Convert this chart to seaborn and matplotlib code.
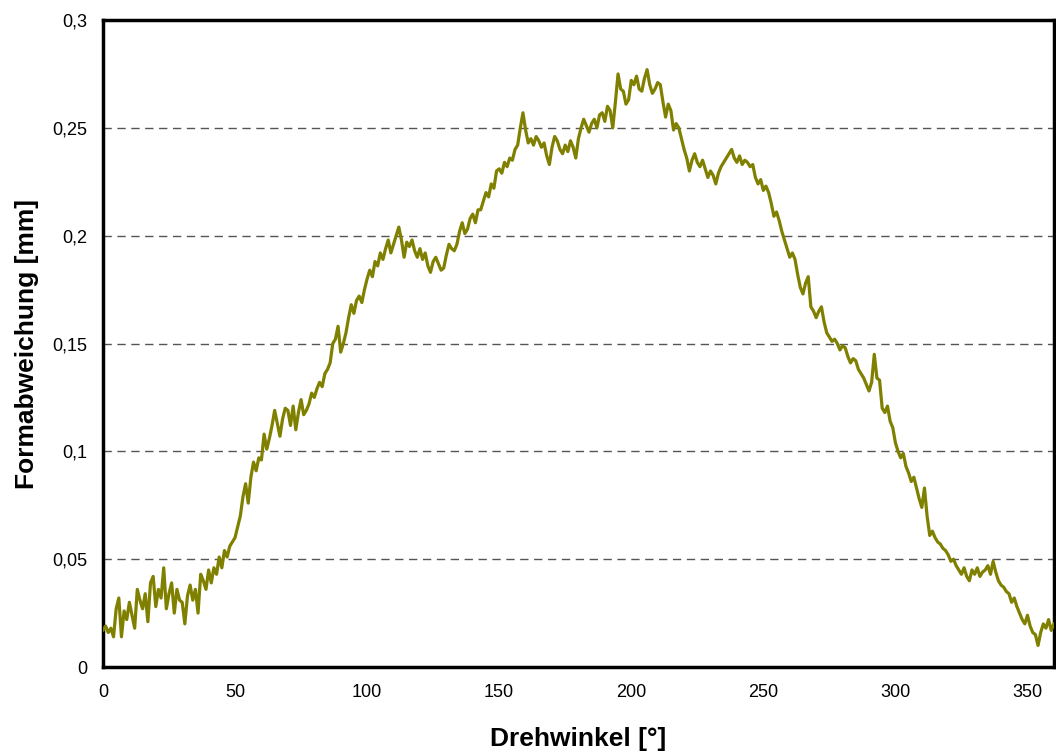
import matplotlib
matplotlib.use("Agg")
import matplotlib.pyplot as plt
import seaborn as sns
import pandas as pd


# -------------------------
# DATA
# -------------------------
angle_start = 0
angle_step = 1

form_deviation = [
    0.017, 0.019, 0.016, 0.018, 0.014, 0.027, 0.032, 0.014, 0.026, 0.022,
    0.030, 0.024, 0.018, 0.036, 0.031, 0.027, 0.034, 0.021, 0.039, 0.042,
    0.028, 0.036, 0.032, 0.046, 0.027, 0.034, 0.039, 0.025, 0.036, 0.031,
    0.030, 0.020, 0.033, 0.038, 0.031, 0.036, 0.025, 0.043, 0.040, 0.036,
    0.045, 0.039, 0.046, 0.043, 0.051, 0.046, 0.054, 0.051, 0.056, 0.058,
    0.060, 0.065, 0.070, 0.079, 0.085, 0.076, 0.088, 0.095, 0.091, 0.097,
    0.096, 0.108, 0.101, 0.106, 0.112, 0.119, 0.113, 0.107, 0.115, 0.120,
    0.119, 0.112, 0.121, 0.110, 0.118, 0.124, 0.117, 0.119, 0.122, 0.127,
    0.125, 0.129, 0.132, 0.130, 0.136, 0.138, 0.141, 0.150, 0.152, 0.158,
    0.146, 0.150, 0.155, 0.162, 0.168, 0.164, 0.170, 0.172, 0.169, 0.175,
    0.180, 0.184, 0.181, 0.188, 0.186, 0.192, 0.189, 0.194, 0.198, 0.192,
    0.196, 0.200, 0.204, 0.198, 0.190, 0.197, 0.195, 0.198, 0.193, 0.190,
    0.194, 0.189, 0.192, 0.186, 0.183, 0.188, 0.190, 0.187, 0.184, 0.185,
    0.191, 0.196, 0.194, 0.193, 0.196, 0.202, 0.206, 0.201, 0.203, 0.208,
    0.210, 0.206, 0.212, 0.212, 0.216, 0.220, 0.218, 0.224, 0.222, 0.230,
    0.231, 0.229, 0.234, 0.232, 0.236, 0.235, 0.240, 0.242, 0.250, 0.257,
    0.249, 0.243, 0.245, 0.242, 0.246, 0.244, 0.241, 0.243, 0.237, 0.233,
    0.241, 0.246, 0.244, 0.240, 0.238, 0.242, 0.239, 0.244, 0.241, 0.236,
    0.245, 0.250, 0.254, 0.251, 0.248, 0.252, 0.254, 0.250, 0.256, 0.257,
    0.253, 0.260, 0.258, 0.250, 0.262, 0.275, 0.268, 0.267, 0.261, 0.263,
    0.272, 0.270, 0.274, 0.268, 0.267, 0.273, 0.277, 0.270, 0.266, 0.268,
    0.271, 0.270, 0.262, 0.255, 0.261, 0.258, 0.249, 0.252, 0.250, 0.245,
    0.240, 0.236, 0.230, 0.235, 0.238, 0.234, 0.232, 0.235, 0.231, 0.227,
    0.230, 0.228, 0.224, 0.229, 0.232, 0.234, 0.236, 0.238, 0.240, 0.236,
    0.234, 0.237, 0.233, 0.235, 0.234, 0.232, 0.233, 0.227, 0.224, 0.226,
    0.221, 0.223, 0.220, 0.215, 0.209, 0.211, 0.207, 0.202, 0.198, 0.194,
    0.190, 0.192, 0.189, 0.182, 0.176, 0.173, 0.178, 0.181, 0.167, 0.165,
    0.162, 0.165, 0.167, 0.160, 0.155, 0.153, 0.151, 0.152, 0.150, 0.147,
    0.149, 0.148, 0.144, 0.141, 0.143, 0.142, 0.138, 0.136, 0.134, 0.131,
    0.128, 0.132, 0.145, 0.134, 0.133, 0.120, 0.118, 0.121, 0.114, 0.111,
    0.104, 0.100, 0.097, 0.099, 0.093, 0.090, 0.086, 0.088, 0.083, 0.078,
    0.074, 0.083, 0.070, 0.061, 0.063, 0.060, 0.058, 0.057, 0.055, 0.054,
    0.052, 0.049, 0.050, 0.047, 0.045, 0.043, 0.046, 0.042, 0.040, 0.045,
    0.043, 0.046, 0.042, 0.044, 0.045, 0.047, 0.043, 0.049, 0.044, 0.040,
    0.038, 0.037, 0.035, 0.034, 0.030, 0.032, 0.028, 0.025, 0.022, 0.020,
    0.024, 0.019, 0.016, 0.015, 0.010, 0.016, 0.020, 0.018, 0.022, 0.017,
    0.020,
]

x_ticks = [0, 50, 100, 150, 200, 250, 300, 350]
y_ticks = [0, 0.05, 0.1, 0.15, 0.2, 0.25, 0.3]
y_tick_labels = ["0", "0,05", "0,1", "0,15", "0,2", "0,25", "0,3"]


# -------------------------
# BUILD TABLE
# -------------------------
def build_frame():
    angles = [angle_start + i * angle_step for i in range(len(form_deviation))]
    return pd.DataFrame({"Drehwinkel": angles, "Formabweichung": form_deviation})


# -------------------------
# PLOT
# -------------------------
def plot_profile(df):
    sns.set_style("white")
    plt.rcParams["font.family"] = ["Liberation Sans", "DejaVu Sans"]

    fig = plt.figure(figsize=(10.56, 7.53), dpi=100)
    ax = fig.add_axes([0.0975, 0.1142, 0.9005, 0.8592])

    for y in y_ticks[1:-1]:
        ax.axhline(y, color="#555555", linewidth=1.0, linestyle=(0, (6, 4)), zorder=1)

    sns.lineplot(data=df, x="Drehwinkel", y="Formabweichung", ax=ax,
                 color="#808000", linewidth=2.3, zorder=3)

    ax.set_xlim(0, 360)
    ax.set_ylim(0, 0.3)
    ax.set_xticks(x_ticks)
    ax.set_xticklabels([str(t) for t in x_ticks])
    ax.set_yticks(y_ticks)
    ax.set_yticklabels(y_tick_labels)
    ax.tick_params(axis="both", direction="out", length=5, width=1,
                   color="black", labelsize=13, labelcolor="black")
    ax.tick_params(axis="x", pad=7)
    ax.tick_params(axis="y", pad=6)

    for side in ["left", "right", "top", "bottom"]:
        ax.spines[side].set_color("black")
        ax.spines[side].set_linewidth(2.5)

    ax.set_xlabel("Drehwinkel [°]", fontsize=19, fontweight="bold",
                  labelpad=19, color="black")
    ax.set_ylabel("Formabweichung [mm]", fontsize=19, fontweight="bold",
                  labelpad=10, color="black")

    fig.savefig("out.png", dpi=100)


# -------------------------
# RUN
# -------------------------
if __name__ == "__main__":
    df = build_frame()
    plot_profile(df)
